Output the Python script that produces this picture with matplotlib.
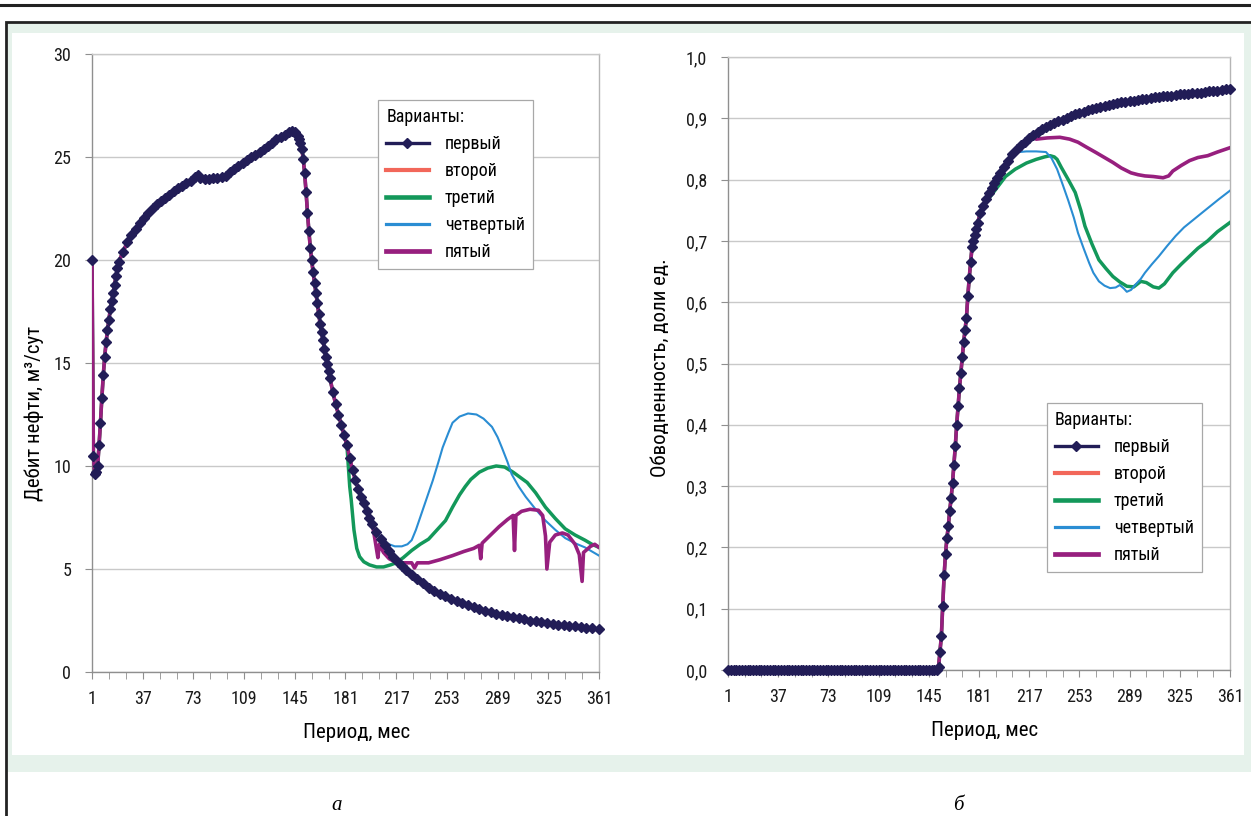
"""Дебит нефти и обводненность по вариантам разработки"""
import matplotlib

matplotlib.use("Agg")
import matplotlib.pyplot as plt
import numpy as np
from matplotlib import font_manager
from matplotlib.lines import Line2D
from matplotlib.patches import Rectangle

# the original uses a narrow Arial-like face; take one if the system has it
_names = {f.name for f in font_manager.fontManager.ttflist}
_narrow = [n for n in ("Liberation Sans Narrow", "Arial Narrow", "DejaVu Sans Condensed",
                       "Roboto Condensed", "Open Sans Condensed") if n in _names]
_narrow += sorted(n for n in _names if "Narrow" in n or "Condensed" in n)
FONT = (_narrow[:1] or ["Liberation Sans"]) + ["Liberation Sans", "DejaVu Sans"]
plt.rcParams["font.family"] = FONT
NARROW = bool(_narrow)

W, H = 1251, 816

VARIANTS = ["первый", "второй", "третий", "четвертый", "пятый"]
X_TICKS = [1, 37, 73, 109, 145, 181, 217, 253, 289, 325, 361]

# --- chart a: oil rate, m3/day ---
MONTHS_A = [1, 2, 3, 4, 5, 6, 7, 8, 9, 10, 11, 12, 13, 14, 15, 16, 17, 18, 19, 20,
            23, 26, 29, 32, 35, 38, 41, 44, 47, 50, 53, 56, 59, 62, 65, 68, 71,
            74, 76, 78, 81, 84, 87, 90, 93, 96, 99, 102, 105, 108, 111, 114, 117, 120, 123,
            126, 129, 132, 135, 138, 141, 143, 145, 147, 148, 149,
            150, 151, 152, 153, 154, 155, 156, 157, 158, 159, 160, 161, 162, 163, 164,
            165, 166, 167, 168, 169, 170,
            172, 174, 176, 178, 180, 182, 184, 186, 188, 190, 192, 194, 196, 198, 200,
            203, 206, 209, 212, 215, 218, 221, 224, 228, 232, 236, 240,
            244, 248, 252, 256, 260, 264, 268, 272, 276, 280, 284, 288, 292, 296, 300,
            304, 308, 312, 316, 320, 324, 328, 332, 336, 340, 344, 348, 352, 356, 361]
DEBIT_1 = [20.0, 10.5, 9.6, 9.7, 10.0, 11.0, 12.1, 13.3, 14.4, 15.3, 16.0, 16.6, 17.1, 17.6,
           18.0, 18.4, 18.8, 19.2, 19.6, 19.9,
           20.4, 20.85, 21.2, 21.5, 21.8, 22.05, 22.3, 22.5, 22.7, 22.85, 23.0, 23.15, 23.35,
           23.5, 23.6, 23.75, 23.85,
           24.05, 24.15, 24.0, 23.95, 23.95, 24.0, 24.0, 24.05, 24.1, 24.25, 24.4, 24.55, 24.7,
           24.85, 25.0, 25.1, 25.25, 25.4, 25.55, 25.7, 25.85, 25.95, 26.05, 26.2, 26.25,
           26.2, 26.0, 25.85, 25.7,
           25.4, 24.9, 24.2, 23.3, 22.3, 21.4, 20.6, 20.0, 19.4, 18.9, 18.4, 17.9, 17.4, 16.9,
           16.5, 16.1, 15.7, 15.3, 14.95, 14.6, 14.25,
           13.6, 13.0, 12.5, 12.0, 11.5, 11.0, 10.4, 9.8, 9.3, 8.9, 8.5, 8.2, 7.8, 7.5, 7.2,
           6.8, 6.45, 6.15, 5.85, 5.6, 5.35, 5.15, 4.95, 4.7, 4.5, 4.3, 4.1,
           3.95, 3.8, 3.68, 3.56, 3.45, 3.35, 3.25, 3.15, 3.06, 2.98, 2.9, 2.83, 2.77, 2.71, 2.65,
           2.6, 2.55, 2.5, 2.46, 2.42, 2.38, 2.34, 2.3, 2.27, 2.24, 2.21, 2.18, 2.15, 2.12, 2.07]
DEBIT_2 = DEBIT_1  # второй вариант совпадает с первым

MONTHS_A3 = [184, 185, 187, 189, 191, 194, 198, 203, 208, 213, 217, 222, 228, 234, 240, 246,
             252, 257, 262, 266, 270, 276, 282, 288, 294, 300, 305, 310, 316, 323, 330, 337,
             344, 351, 356, 361]
DEBIT_3 = [9.0, 8.4, 6.9, 6.0, 5.6, 5.35, 5.2, 5.1, 5.1, 5.2, 5.3, 5.55, 5.9, 6.2, 6.45, 6.9,
           7.35, 8.0, 8.6, 9.0, 9.35, 9.7, 9.9, 10.0, 9.95, 9.7, 9.45, 9.2, 8.7, 8.0, 7.45, 6.95,
           6.65, 6.4, 6.2, 6.05]

MONTHS_A4 = [206, 209, 212, 216, 221, 225, 228, 231, 235, 239, 243, 247, 250, 254, 257, 262,
             268, 274, 279, 285, 289, 292, 296, 299, 304, 309, 316, 323, 330, 337, 344, 351,
             356, 361]
DEBIT_4 = [6.5, 6.3, 6.2, 6.1, 6.1, 6.2, 6.4, 6.9, 7.7, 8.5, 9.3, 10.2, 10.9, 11.6, 12.1, 12.4,
           12.55, 12.5, 12.3, 11.9, 11.4, 10.9, 10.2, 9.6, 9.0, 8.5, 7.9, 7.35, 6.9, 6.5, 6.25,
           6.05, 5.85, 5.65]

MONTHS_A5 = [202, 204, 205, 208, 212, 216, 222, 228, 230, 232, 240, 248, 257, 265, 272, 276,
             277, 278, 284, 290, 296, 300, 301, 302, 306, 312, 318, 321, 323, 324, 326, 330,
             335, 339, 344, 347, 349, 350, 355, 358, 361]
DEBIT_5 = [6.4, 5.55, 6.2, 5.8, 5.5, 5.35, 5.3, 5.3, 5.05, 5.3, 5.3, 5.45, 5.65, 5.85, 6.0, 6.15,
           5.5, 6.25, 6.65, 7.05, 7.4, 7.6, 5.9, 7.6, 7.8, 7.9, 7.85, 7.6, 6.6, 5.0, 6.3, 6.65,
           6.75, 6.65, 6.2, 5.7, 4.4, 5.8, 6.1, 6.2, 6.05]

# --- chart б: water cut, fraction ---
MONTHS_B = [1, 3, 5, 7, 9, 11, 13, 15, 17, 19, 21, 23, 25, 27, 29, 31, 33, 35, 37, 39,
            41, 43, 45, 47, 49, 51, 53, 55, 57, 59, 61, 63, 65, 67, 69, 71, 73, 75, 77, 79,
            81, 83, 85, 87, 89, 91, 93, 95, 97, 99, 101, 103, 105, 107, 109, 111, 113, 115,
            117, 119, 121, 123, 125, 127, 129, 131, 133, 135, 137, 139, 141, 143, 145, 147, 149,
            151, 152, 153, 154, 155, 156, 157, 158, 159, 160, 161, 162, 163, 164, 165, 166,
            167, 168, 169, 170, 171, 172, 173, 174, 175, 176, 177, 178, 179, 180,
            182, 184, 186, 188, 190, 192, 194, 196, 199, 202, 205, 208, 211, 214, 217, 220,
            223, 226, 229, 232, 235, 238, 241, 244, 247, 250, 253, 256, 259, 262, 265, 268,
            271, 274, 277, 280, 283, 286, 289, 292, 295, 298, 301, 304, 307, 310, 313, 316,
            319, 322, 325, 328, 331, 334, 337, 340, 343, 346, 349, 352, 355, 358, 361]
VODA_1 = [0.0, 0.0, 0.0, 0.0, 0.0, 0.0, 0.0, 0.0, 0.0, 0.0, 0.0, 0.0, 0.0, 0.0, 0.0,
          0.0, 0.0, 0.0, 0.0, 0.0, 0.0, 0.0, 0.0, 0.0, 0.0, 0.0, 0.0, 0.0, 0.0, 0.0,
          0.0, 0.0, 0.0, 0.0, 0.0, 0.0, 0.0, 0.0, 0.0, 0.0, 0.0, 0.0, 0.0, 0.0, 0.0,
          0.0, 0.0, 0.0, 0.0, 0.0, 0.0, 0.0, 0.0, 0.0, 0.0, 0.0, 0.0, 0.0, 0.0, 0.0,
          0.0, 0.0, 0.0, 0.0, 0.0, 0.0, 0.0, 0.0, 0.0, 0.0, 0.0, 0.0, 0.0, 0.0, 0.0,
          0.0, 0.005, 0.03, 0.055, 0.105, 0.155, 0.19, 0.215, 0.235, 0.26, 0.28, 0.305, 0.335,
          0.365, 0.40, 0.43, 0.46, 0.485, 0.51, 0.535, 0.555, 0.575, 0.61, 0.64, 0.665, 0.69,
          0.70, 0.71, 0.72, 0.73,
          0.745, 0.757, 0.768, 0.778, 0.787, 0.795, 0.803, 0.81, 0.82, 0.83, 0.842, 0.85,
          0.856, 0.862, 0.868, 0.873,
          0.877, 0.882, 0.886, 0.889, 0.892, 0.895, 0.898, 0.901, 0.904, 0.907, 0.909, 0.911,
          0.913, 0.915, 0.917, 0.919,
          0.92, 0.922, 0.923, 0.925, 0.926, 0.927, 0.928, 0.929, 0.93, 0.931, 0.932, 0.933,
          0.934, 0.935, 0.936, 0.937,
          0.937, 0.938, 0.939, 0.94, 0.94, 0.941, 0.942, 0.942, 0.943, 0.944, 0.944, 0.945,
          0.946, 0.947, 0.948]
VODA_2 = VODA_1

MONTHS_B3 = [189, 195, 200, 207, 215, 222, 228, 232, 235, 237, 240, 245, 250, 254, 257, 262,
             267, 272, 277, 282, 287, 292, 297, 301, 306, 310, 314, 320, 326, 332, 338, 345,
             352, 361]
VODA_3 = [0.772, 0.79, 0.805, 0.817, 0.827, 0.833, 0.837, 0.839, 0.837, 0.833, 0.82, 0.80,
          0.779, 0.75, 0.724, 0.695, 0.669, 0.655, 0.642, 0.633, 0.626, 0.625, 0.634, 0.632,
          0.625, 0.623, 0.63, 0.648, 0.662, 0.675, 0.688, 0.70, 0.715, 0.73]

MONTHS_B4 = [210, 215, 222, 229, 233, 237, 241, 245, 249, 252, 256, 260, 263, 267, 271, 275,
             279, 282, 285, 287, 290, 293, 297, 300, 305, 310, 316, 322, 328, 335, 341, 347,
             353, 361]
VODA_4 = [0.845, 0.846, 0.846, 0.845, 0.835, 0.817, 0.792, 0.766, 0.738, 0.713, 0.688, 0.664,
          0.648, 0.634, 0.627, 0.623, 0.624, 0.628, 0.622, 0.617, 0.62, 0.628, 0.638, 0.648,
          0.662, 0.675, 0.692, 0.708, 0.722, 0.735, 0.746, 0.757, 0.768, 0.782]

MONTHS_B5 = [222, 230, 239, 246, 252, 258, 265, 271, 277, 283, 290, 295, 300, 306, 313, 317,
             320, 326, 332, 338, 345, 352, 361]
VODA_5 = [0.866, 0.868, 0.869, 0.866, 0.861, 0.853, 0.844, 0.836, 0.828, 0.819, 0.811, 0.808,
          0.806, 0.805, 0.803, 0.806, 0.814, 0.823, 0.831, 0.836, 0.839, 0.845, 0.852]

NAVY = "#221d57"
COLORS = [NAVY, "#f2675a", "#13985a", "#2a8dd3", "#971f7e"]
WIDTHS = [1.6, 2.2, 2.5, 1.5, 2.6]
TICK_SIZE = 13 if NARROW else 12.5
LABEL_SIZE = 15 if NARROW else 13.5


def join(main_m, main_v, tail_m, tail_v):
    """Main series up to the split point, then the variant's own values."""
    main_m = np.asarray(main_m)
    keep = main_m < tail_m[0]
    return np.r_[main_m[keep], tail_m], np.r_[np.asarray(main_v)[keep], tail_v]


def draw(ax, months, series):
    for k, (x, y) in enumerate(series):
        ax.plot(x, y, color=COLORS[k], lw=WIDTHS[k], zorder=2 + k, solid_joinstyle="round")
    ax.plot(months, series[0][1], ls="none", marker="D", ms=5.4, color=NAVY,
            mec=NAVY, zorder=9, clip_on=False)


def style(ax, ymax, ystep, fmt):
    ax.set_xlim(1, 361)
    ax.set_ylim(0, ymax)
    ax.set_xticks(X_TICKS)
    ax.set_xticks(range(1, 362, 12), minor=True)
    ax.set_yticks(np.arange(0, ymax + ystep / 2, ystep))
    ax.yaxis.set_major_formatter(plt.FuncFormatter(fmt))
    ax.yaxis.grid(True, color="#c9c9c9", lw=1.0)
    ax.set_axisbelow(True)
    for name, spine in ax.spines.items():
        spine.set_color("#8f8f8f" if name in ("left", "bottom") else "#b5b5b5")
        spine.set_linewidth(1.0)
    ax.spines["top"].set_color("#c9c9c9")
    ax.tick_params(axis="both", which="both", direction="out", color="#8f8f8f",
                   labelsize=TICK_SIZE, labelcolor="#1a1a1a")
    ax.tick_params(axis="x", which="both", length=5, pad=8)
    ax.tick_params(axis="y", length=5, pad=10)


def legend(ax, x, y):
    handles = [Line2D([], [], color=COLORS[0], lw=2.4, marker="D", ms=5.5)]
    handles += [Line2D([], [], color=c, lw=w + 0.8) for c, w in zip(COLORS[1:], WIDTHS[1:])]
    leg = ax.legend(handles, VARIANTS, title="Варианты:", loc="upper left",
                    bbox_to_anchor=(x / W, 1 - y / H), bbox_transform=ax.figure.transFigure,
                    borderaxespad=0, fontsize=TICK_SIZE, title_fontsize=TICK_SIZE, frameon=True,
                    fancybox=False, framealpha=1, edgecolor="#a8a8a8", handlelength=2.35,
                    handletextpad=0.9, labelspacing=0.5, borderpad=0.45, alignment="left")
    leg.get_frame().set_linewidth(0.9)
    leg.set_zorder(20)


fig = plt.figure(figsize=(W / 100, H / 100), dpi=100, facecolor="white")

# page decoration: rule, frame, light green panel
fig.add_artist(Line2D([0, 1], [1 - 5 / H] * 2, color="#222222", lw=2.2))
fig.add_artist(Rectangle((6 / W, -0.05), 1.1, 1 - 22 / H + 0.05, transform=fig.transFigure,
                         facecolor="white", edgecolor="#222222", lw=2.0, zorder=-3))
fig.add_artist(Rectangle((8 / W, 1 - 772 / H), 1.0, (772 - 24) / H, transform=fig.transFigure,
                         facecolor="#e6f2eb", edgecolor="none", zorder=-2))
fig.add_artist(Rectangle((12 / W, 1 - 755 / H), (1244 - 12) / W, (755 - 33) / H,
                         transform=fig.transFigure, facecolor="white", edgecolor="none",
                         zorder=-1))

ax_a = fig.add_axes([92 / W, 1 - 672 / H, (599 - 92) / W, (672 - 54) / H])
ax_b = fig.add_axes([728 / W, 1 - 670 / H, (1230 - 728) / W, (670 - 57) / H])

series_a = [(np.asarray(MONTHS_A), DEBIT_1), (np.asarray(MONTHS_A), DEBIT_2),
            join(MONTHS_A, DEBIT_1, MONTHS_A3, DEBIT_3),
            join(MONTHS_A, DEBIT_1, MONTHS_A4, DEBIT_4),
            join(MONTHS_A, DEBIT_1, MONTHS_A5, DEBIT_5)]
series_b = [(np.asarray(MONTHS_B), VODA_1), (np.asarray(MONTHS_B), VODA_2),
            join(MONTHS_B, VODA_1, MONTHS_B3, VODA_3),
            join(MONTHS_B, VODA_1, MONTHS_B4, VODA_4),
            join(MONTHS_B, VODA_1, MONTHS_B5, VODA_5)]

draw(ax_a, MONTHS_A, series_a)
draw(ax_b, MONTHS_B, series_b)
style(ax_a, 30, 5, lambda v, _: f"{v:.0f}")
style(ax_b, 1.0, 0.1, lambda v, _: f"{v:.1f}".replace(".", ","))
legend(ax_a, 378, 100)
legend(ax_b, 1047, 403)

fig.text(357 / W, 1 - 733 / H, "Период, мес", ha="center", va="center", fontsize=LABEL_SIZE)
fig.text(985 / W, 1 - 730 / H, "Период, мес", ha="center", va="center", fontsize=LABEL_SIZE)
fig.text(34 / W, 1 - 413 / H, "Дебит нефти, м³/сут", ha="center", va="center",
         rotation=90, fontsize=LABEL_SIZE)
fig.text(660 / W, 1 - 368 / H, "Обводненность, доли ед.", ha="center", va="center",
         rotation=90, fontsize=LABEL_SIZE)

for x, letter in [(337, "а"), (958, "б")]:
    fig.text(x / W, 1 - 805 / H, letter, ha="center", va="center", fontsize=15,
             family="Liberation Serif", style="italic")

fig.savefig("out.png", dpi=100)
